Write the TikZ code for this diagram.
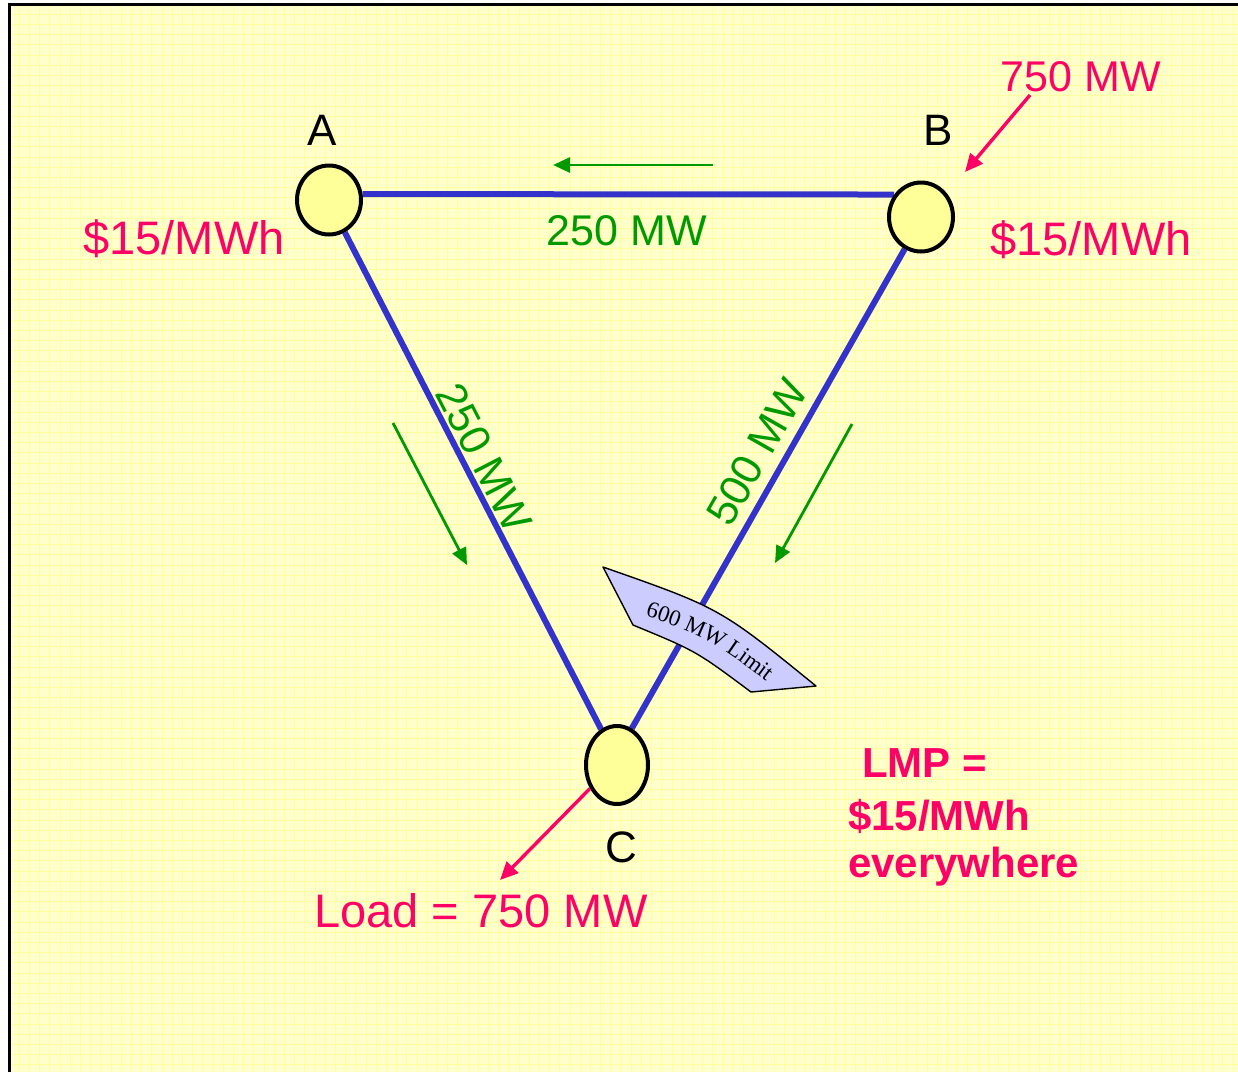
\documentclass[tikz,border=0pt]{standalone}
\usepackage{fontspec}
\setmainfont{Liberation Sans}
\newfontfamily\timesf{Liberation Serif}
\usetikzlibrary{arrows.meta,decorations.text,shapes.geometric}
\definecolor{bg}{HTML}{FFFFCC}
\definecolor{gridc}{HTML}{FFFF9E}
\definecolor{lineblue}{HTML}{3333CC}
\definecolor{flowgreen}{HTML}{009900}
\definecolor{pinkc}{HTML}{FF0066}
\definecolor{nodefill}{HTML}{FFFF99}
\definecolor{limitfill}{HTML}{CCCCFF}
\newcommand\limitfont{\timesf\fontsize{23}{23}\selectfont}
\pgfdeclarelayer{back}
\pgfdeclarelayer{mid}
\pgfsetlayers{back,mid,main}
\tikzset{
  bus/.style={ellipse, draw=black, line width=4pt, fill=nodefill, inner sep=0pt},
  tline/.style={draw=lineblue, line width=6pt},
  flow/.style={draw=flowgreen, line width=2.8pt, -{Triangle[length=17pt,width=15pt]}},
  pinkarrow/.style={draw=pinkc, line width=3.4pt, -{Triangle[length=18pt,width=16pt]}},
  lbl/.style={inner sep=0pt, font=\fontsize{44}{50}\selectfont},
  price/.style={inner sep=0pt, text=pinkc, font=\fontsize{47}{52}\selectfont},
  flowlbl/.style={inner sep=0pt, text=flowgreen, font=\fontsize{43}{50}\selectfont},
  lmp/.style={inner sep=0pt, text=pinkc, font=\bfseries\fontsize{42}{50}\selectfont}
}
\begin{document}
\begin{tikzpicture}[x=1pt,y=-1pt]
\useasboundingbox (0,0) rectangle (1238,1072);
\begin{pgfonlayer}{back}
\fill[white] (0,0) rectangle (1238,1072);
\fill[bg] (9,4) rectangle (1238,1072);
\foreach \i in {1,...,121} \draw[gridc, line width=1pt] ({9+\i*10.2},4) -- ({9+\i*10.2},1072);
\foreach \j in {1,...,105} \draw[gridc, line width=1pt] (9,{4+\j*10.2}) -- (1238,{4+\j*10.2});
\draw[line width=3pt] (9,1072) -- (9,4) -- (1238,4);
\end{pgfonlayer}

% buses
\node[bus, minimum width=64pt, minimum height=69pt] (A) at (329,200) {};
\node[bus, minimum width=64pt, minimum height=69pt] (B) at (921,217) {};
\node[bus, minimum width=62pt, minimum height=78pt] (C) at (617,765) {};

% transmission lines
\begin{pgfonlayer}{mid}
\draw[tline] (A.10) -- (B.140);
\draw[tline] (A.-64) -- (C.114);
\draw[tline] (B.-117) -- (C.68);
\end{pgfonlayer}

% bus labels
\node[lbl, anchor=base] (labA) at (322,145) {A};
\node[lbl, anchor=base] (labB) at (938,145) {B};
\node[lbl, anchor=base] (labC) at (621,862) {C};

% prices
\node[price, anchor=base] (pA) at (184,254) {\$15/MWh};
\node[price, anchor=base] (pB) at (1091,255) {\$15/MWh};

% flows
\coordinate (fab1) at (713,165);
\coordinate (fab2) at (553,165);
\draw[flow] (fab1) -- (fab2);
\coordinate (fac1) at (393,423);
\coordinate (fac2) at (467,565);
\draw[flow] (fac1) -- (fac2);
\coordinate (fbc1) at (852,424);
\coordinate (fbc2) at (775,563);
\draw[flow] (fbc1) -- (fbc2);

\node[flowlbl, anchor=base] (lab) at (627,245) {250 MW};
\node[flowlbl, rotate=-62.7] (lac) at (484,458) {250 MW};
\node[flowlbl, rotate=60.3] (lbc) at (757,452) {500 MW};

% generation and load
\coordinate (gen1) at (1030,95);
\coordinate (gen2) at (965,172);
\draw[pinkarrow] (gen1) -- (gen2);
\node[inner sep=0pt, text=pinkc, font=\fontsize{43}{50}\selectfont, anchor=base] (genlbl) at (1081,91) {750 MW};
\coordinate (load) at (500,880);
\draw[pinkarrow] (C.-139) -- (load);
\node[price, anchor=base] (loadlbl) at (481,927) {Load = 750 MW};

% limit callout
\draw[fill=limitfill, line width=1.4pt, line join=round]
  (603,567) .. controls (720,608) .. (816,686) -- (751,692)
  .. controls (696,651) .. (633,625) -- cycle;
\path[decorate, decoration={text along path, text align=center,
  text={|\limitfont|600 MW Limit}}]
  (621,608) .. controls (707,636) .. (787,697);

% LMP note
\node[lmp, anchor=base west] (lmp1) at (862,777) {LMP =};
\node[lmp, anchor=base west] (lmp2) at (848,830) {\$15/MWh};
\node[lmp, anchor=base west] (lmp3) at (848,877) {everywhere};
\end{tikzpicture}
\end{document}
